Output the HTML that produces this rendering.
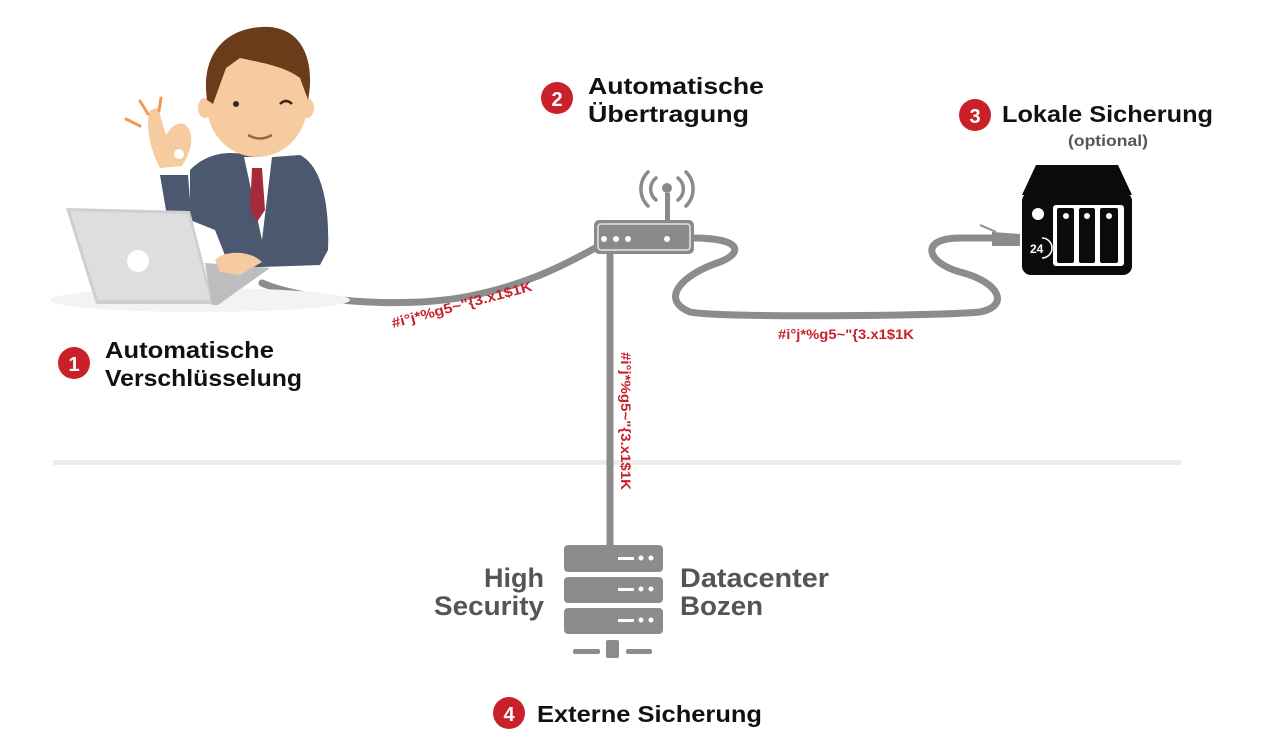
<!DOCTYPE html>
<html><head><meta charset="utf-8"><style>
html,body{margin:0;padding:0;background:#fff}
svg{display:block}
text{font-family:"Liberation Sans","DejaVu Sans",sans-serif}
</style></head><body>
<svg width="1272" height="756" viewBox="0 0 1272 756" xmlns="http://www.w3.org/2000/svg">
<rect x="53" y="460" width="1128" height="5" fill="#ececec"/>
<g fill="none" stroke="#8c8c8c" stroke-width="7" stroke-linecap="round">
<path d="M262,283 C300,300 400,310 470,296 C530,284 570,262 597,247"/>
<path d="M610,253 L610,545"/>
<path d="M693,238 C740,238 745,252 720,262 C680,275 660,300 690,312 C720,318 940,316 980,312 C1010,306 1000,282 960,272 C925,262 920,238 960,238 L995,238"/>
</g>
<path d="M992,232 L1020,234 L1020,246 L992,246 Z" fill="#8c8c8c"/>
<path d="M996,232 L980,225" stroke="#8c8c8c" stroke-width="2"/>
<rect x="594" y="220" width="100" height="34" rx="5" fill="#8a8a8a"/>
<rect x="598" y="224" width="92" height="26" rx="3" fill="none" stroke="#e6e6e6" stroke-width="1.5"/>
<circle cx="604" cy="239" r="3" fill="#fff"/><circle cx="616" cy="239" r="3" fill="#fff"/><circle cx="628" cy="239" r="3" fill="#fff"/><circle cx="667" cy="239" r="3" fill="#fff"/>
<rect x="665" y="193" width="5" height="27" fill="#8a8a8a"/>
<circle cx="667" cy="188" r="5" fill="#8a8a8a"/>
<g fill="none" stroke="#8a8a8a" stroke-width="3.5" stroke-linecap="round">
<path d="M656,178 A14,14 0 0,0 656,200"/><path d="M678,178 A14,14 0 0,1 678,200"/>
<path d="M648,172 A24,24 0 0,0 648,206"/><path d="M686,172 A24,24 0 0,1 686,206"/>
</g>
<path d="M1036,165 L1118,165 L1132,195 L1022,195 Z" fill="#0b0b0b"/>
<rect x="1022" y="192" width="110" height="83" rx="9" fill="#0b0b0b"/>
<circle cx="1038" cy="214" r="6" fill="#fff"/>
<rect x="1053" y="205" width="71" height="61" rx="3" fill="#fff"/>
<rect x="1057" y="208" width="17" height="55" rx="2" fill="#0b0b0b"/>
<rect x="1079" y="208" width="16" height="55" rx="2" fill="#0b0b0b"/>
<rect x="1100" y="208" width="18" height="55" rx="2" fill="#0b0b0b"/>
<circle cx="1066" cy="216" r="3" fill="#fff"/><circle cx="1087" cy="216" r="3" fill="#fff"/><circle cx="1109" cy="216" r="3" fill="#fff"/>
<text x="1030" y="253" font-size="12" fill="#fff" font-weight="bold">24</text>
<path d="M1042,238 A10,10 0 0,1 1042,258" fill="none" stroke="#fff" stroke-width="1.5"/>
<g fill="#8c8c8c">
<rect x="564" y="545" width="99" height="27" rx="4"/>
<rect x="564" y="577" width="99" height="26" rx="4"/>
<rect x="564" y="608" width="99" height="26" rx="4"/>
<rect x="573" y="649" width="27" height="5" rx="2"/>
<rect x="606" y="640" width="13" height="18" rx="2"/>
<rect x="626" y="649" width="26" height="5" rx="2"/>
</g>
<g fill="#fff">
<rect x="618" y="557" width="16" height="3"/><circle cx="641" cy="558" r="2.5"/><circle cx="651" cy="558" r="2.5"/>
<rect x="618" y="588" width="16" height="3"/><circle cx="641" cy="589" r="2.5"/><circle cx="651" cy="589" r="2.5"/>
<rect x="618" y="619" width="16" height="3"/><circle cx="641" cy="620" r="2.5"/><circle cx="651" cy="620" r="2.5"/>
</g>
<!-- person -->
<ellipse cx="200" cy="300" rx="150" ry="12" fill="#f3f3f3"/>
<path d="M190,170 C210,150 235,150 260,158 L300,155 C320,165 330,200 328,250 L320,265 L230,268 L215,230 L190,220 Z" fill="#4b5870"/>
<path d="M160,175 L188,175 L192,225 L168,222 Z" fill="#4b5870"/>
<path d="M244,157 L272,157 L262,240 Z" fill="#fff"/>
<path d="M252,168 L262,168 L265,210 L257,222 L250,210 Z" fill="#a52a3a"/>
<path d="M150,110 C145,125 150,150 160,168 L182,166 C192,150 195,135 186,125 C178,120 170,128 166,135 L158,108 Z" fill="#f7cba0"/>
<circle cx="179" cy="154" r="5" fill="#fff"/>
<ellipse cx="205" cy="108" rx="7" ry="10" fill="#f7cba0"/>
<ellipse cx="307" cy="108" rx="7" ry="10" fill="#f7cba0"/>
<ellipse cx="257" cy="105" rx="50" ry="52" fill="#f7cba0"/>
<path d="M207,100 C200,50 230,25 270,27 C305,30 315,65 308,100 L300,78 C285,66 258,62 240,58 L226,68 L213,104 Z" fill="#6b3c1a"/>
<circle cx="236" cy="104" r="3" fill="#3a2a1a"/>
<path d="M280,104 Q286,98 292,104" stroke="#3a2a1a" stroke-width="2.5" fill="none"/>
<path d="M248,135 Q260,142 272,135" stroke="#a0604a" stroke-width="2.5" fill="none"/>
<g stroke="#f19a55" stroke-width="3" stroke-linecap="round">
<line x1="126" y1="119" x2="140" y2="126"/><line x1="140" y1="101" x2="148" y2="114"/><line x1="161" y1="98" x2="159" y2="111"/>
</g>
<path d="M66,208 L190,211 L214,304 L96,304 Z" fill="#cfcfcf"/>
<path d="M70,211 L188,214 L210,300 L98,300 Z" fill="#dedede"/>
<circle cx="138" cy="261" r="11" fill="#fff"/>
<path d="M205,263 L270,268 L218,305 L212,305 Z" fill="#bdbdbd"/>
<path d="M215,260 C225,250 250,250 262,262 L240,275 L220,272 Z" fill="#f7cba0"/>
<!-- labels -->
<g font-size="23" fill="#111" font-weight="bold">
<circle cx="74" cy="363" r="16" fill="#c9202a"/><text x="74" y="371" text-anchor="middle" fill="#fff" font-size="20">1</text>
<text x="105" y="358" textLength="169" lengthAdjust="spacingAndGlyphs">Automatische</text><text x="105" y="386" textLength="197" lengthAdjust="spacingAndGlyphs">Verschlüsselung</text>
<circle cx="557" cy="98" r="16" fill="#c9202a"/><text x="557" y="106" text-anchor="middle" fill="#fff" font-size="20">2</text>
<text x="588" y="94" textLength="176" lengthAdjust="spacingAndGlyphs">Automatische</text><text x="588" y="122" textLength="161" lengthAdjust="spacingAndGlyphs">Übertragung</text>
<circle cx="975" cy="115" r="16" fill="#c9202a"/><text x="975" y="123" text-anchor="middle" fill="#fff" font-size="20">3</text>
<text x="1002" y="122" textLength="211" lengthAdjust="spacingAndGlyphs">Lokale Sicherung</text>
<circle cx="509" cy="713" r="16" fill="#c9202a"/><text x="509" y="721" text-anchor="middle" fill="#fff" font-size="20">4</text>
<text x="537" y="722" textLength="225" lengthAdjust="spacingAndGlyphs">Externe Sicherung</text>
</g>
<text x="1068" y="146" font-size="16" fill="#555" font-weight="bold" textLength="80" lengthAdjust="spacingAndGlyphs">(optional)</text>
<g font-size="27" fill="#555" font-weight="bold">
<text x="484" y="587" textLength="60" lengthAdjust="spacingAndGlyphs">High</text><text x="434" y="615" textLength="110" lengthAdjust="spacingAndGlyphs">Security</text>
<text x="680" y="587" textLength="149" lengthAdjust="spacingAndGlyphs">Datacenter</text><text x="680" y="615" textLength="83" lengthAdjust="spacingAndGlyphs">Bozen</text>
</g>
<g font-size="14" fill="#c9202a" font-weight="bold">
<text x="0" y="0" transform="translate(393,328) rotate(-15)" textLength="145" lengthAdjust="spacingAndGlyphs">#i°j*%g5~"{3.x1$1K</text>
<text x="778" y="339" textLength="136" lengthAdjust="spacingAndGlyphs">#i°j*%g5~"{3.x1$1K</text>
<text x="0" y="0" transform="translate(621,352) rotate(90)" textLength="138" lengthAdjust="spacingAndGlyphs">#i°j*%g5~"{3.x1$1K</text>
</g>
</svg>
</body></html>
